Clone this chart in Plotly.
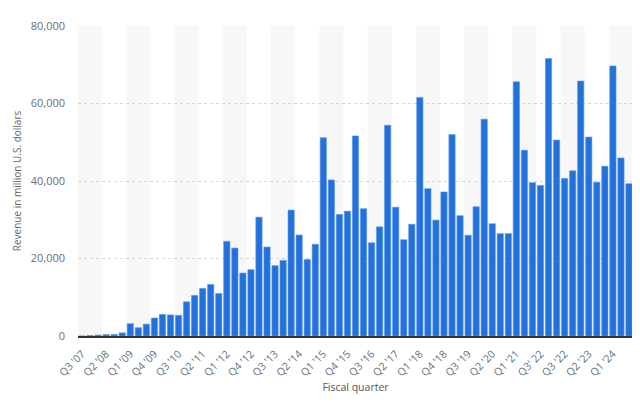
import plotly.graph_objects as go

quarters = []
start_year, start_q = 2007, 3
y, q = start_year, start_q
for _ in range(69):
    quarters.append(f"Q{q} '{str(y)[2:]}")
    q += 1
    if q > 4:
        q = 1
        y += 1

revenue = [
    5, 118, 241, 378, 419, 806,
    3182, 2144, 3058, 4649,
    5578, 5445, 5334, 8822,
    10468, 12298, 13311, 10980,
    24417, 22690, 16245, 17125,
    30660, 22955, 18154, 19510,
    32498, 26064, 19751, 23678,
    51182, 40282, 31368, 32209,
    51635, 32857, 24048, 28160,
    54378, 33249, 24846, 28846,
    61576, 38032, 29906, 37185,
    51982, 31051, 25986, 33362,
    55957, 28962, 26418, 26444,
    65597, 47938, 39570, 38868,
    71628, 50570, 40665, 42626,
    65775, 51334, 39669, 43805,
    69702, 45963, 39296,
]

tick_labels = quarters[::3]
tick_labels[-4] = "Q3' 22"

n = len(quarters)
fig = go.Figure()
fig.add_trace(go.Bar(
    x=list(range(n)), y=revenue,
    marker=dict(color="#2372dc", line=dict(color="#5a97e6", width=0.6)),
))

shapes = []
for i in range(0, n, 6):
    shapes.append(dict(type="rect", xref="x", yref="paper",
                       x0=i - 0.5, x1=min(i + 2.5, n - 0.5),
                       y0=0, y1=1, fillcolor="#f7f7f7", line=dict(width=0),
                       layer="below"))

# page body has an 8px default margin, so the figure is 8px smaller
fig.update_layout(
    width=632, height=405,
    margin=dict(l=70, r=7, t=18, b=77, autoexpand=False),
    paper_bgcolor="white", plot_bgcolor="white",
    bargap=0.22,
    shapes=shapes,
    font=dict(family="Open Sans, Arial, sans-serif", color="#666f7a", size=11),
    showlegend=False,
    xaxis=dict(
        range=[-0.5, n - 0.5], automargin=False,
        tickmode="array", tickvals=list(range(0, n, 3)), ticktext=tick_labels,
        tickangle=-45, showgrid=False, ticks="", tickfont=dict(size=10.5),
        ticklabelstandoff=6,
        title=dict(text="Fiscal quarter", font=dict(size=10.5, color="#555"), standoff=6),
        showline=True, linecolor="#333", linewidth=1.5,
    ),
    yaxis=dict(
        range=[0, 80000], tickvals=[0, 20000, 40000, 60000, 80000], automargin=False,
        tickformat=",", showgrid=True, gridcolor="#d6d6d6", griddash="dot",
        zeroline=False, ticks="", ticklabelstandoff=12,
        title=dict(text="Revenue in million U.S. dollars", font=dict(size=10, color="#666"), standoff=7),
    ),
)

fig.write_html("out.html")
